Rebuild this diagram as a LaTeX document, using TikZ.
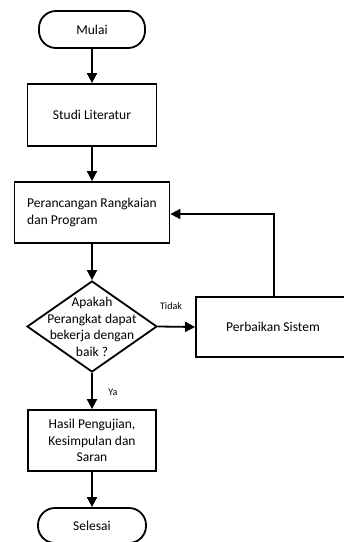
\documentclass[tikz,border=0pt]{standalone}
\usepackage{fontspec}
\setmainfont{Carlito}
\usetikzlibrary{arrows.meta,shapes.geometric}

\tikzset{
	terminal/.style={draw, line width=1.8pt, rounded corners=17pt, inner sep=0pt, font=\fontsize{13.5}{16.5}\selectfont},
	process/.style={draw, line width=1.8pt, inner sep=0pt, align=center, font=\fontsize{13.5}{16.5}\selectfont},
	decision/.style={draw, diamond, line width=1.8pt, inner sep=0pt},
	flow/.style={line width=1.8pt, -{Triangle[width=10pt,length=10pt]}}
}

\begin{document}
\begin{tikzpicture}[x=1pt, y=-1pt]
			%%%%% START %%%%%
			\useasboundingbox (0, 0) rectangle (344, 542);
			
			\node[terminal, minimum width=106, minimum height=37] (mulai) at (92, 29.5) {Mulai};
			\node[process, minimum width=129, minimum height=62] (studi) at (92, 115) {Studi Literatur};
			\node[process, minimum width=155, minimum height=61, align=left] (rancang) at (92, 212.5) {Perancangan Rangkaian\\dan Program};
			
			\node[decision, minimum width=130, minimum height=91] (cek) at (92, 326.5) {};
			\node[align=center, font=\fontsize{13.5}{16.5}\selectfont] (cektext) at (92, 327) {Apakah\\Perangkat dapat\\bekerja dengan\\baik ?};
			
			\node[process, minimum width=154, minimum height=60] (perbaikan) at (273, 327) {Perbaikan Sistem};
			\node[process, minimum width=128, minimum height=61] (hasil) at (92, 440.5) {Hasil Pengujian,\\Kesimpulan dan\\Saran};
			\node[terminal, minimum width=108, minimum height=35] (selesai) at (92, 525.5) {Selesai};
			
			\coordinate (belok) at (274, 214);
			
			\draw[flow] (mulai) -- (studi);
			\draw[flow] (studi) -- (rancang);
			\draw[flow] (rancang) -- (cek);
			\draw[flow] (cek.east) -- (perbaikan.west);
			\draw[flow] (cek.south) -- (hasil.north);
			\draw[flow] (hasil) -- (selesai);
			\draw[flow] (perbaikan.north -| belok) -- (belok) -- (belok -| rancang.east);
			
			\node[font=\fontsize{10}{12}\selectfont] (tidak) at (171, 306) {Tidak};
			\node[font=\fontsize{10}{12}\selectfont] (ya) at (113, 392) {Ya};
			
			%%%%% END %%%%%
		\end{tikzpicture}
\end{document}
